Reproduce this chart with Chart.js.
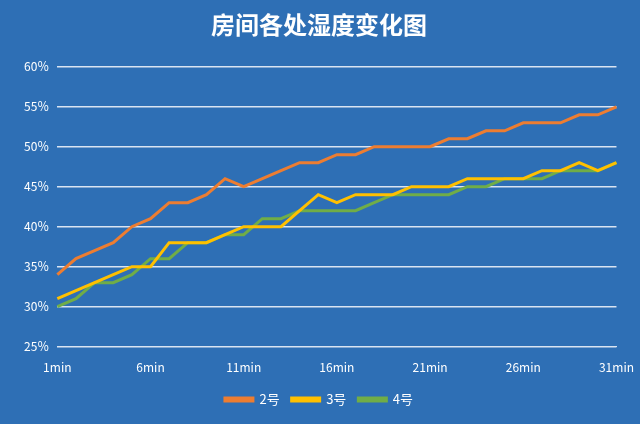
<!DOCTYPE html>
<html>
<head>
<meta charset="utf-8">
<script src="https://cdn.jsdelivr.net/npm/chart.js@4"></script>
<style>
  html, body { margin: 0; padding: 0; background: #2e6fb5; }
  #wrap { width: 640px; height: 424px; position: relative; }
</style>
</head>
<body>
<div id="wrap"><canvas id="chart" width="640" height="424"></canvas></div>
<script>
const labels = Array.from({ length: 31 }, (_, i) => (i + 1) + 'min')
const room2 = [34, 36, 37, 38, 40, 41, 43, 43, 44, 46, 45, 46, 47, 48, 48, 49, 49, 50, 50, 50, 50, 51, 51, 52, 52, 53, 53, 53, 54, 54, 55]
const room3 = [31, 32, 33, 34, 35, 35, 38, 38, 38, 39, 40, 40, 40, 42, 44, 43, 44, 44, 44, 45, 45, 45, 46, 46, 46, 46, 47, 47, 48, 47, 48]
const room4 = [30, 31, 33, 33, 34, 36, 36, 38, 38, 39, 39, 41, 41, 42, 42, 42, 42, 43, 44, 44, 44, 44, 45, 45, 46, 46, 46, 47, 47, 47, 48]

const font = "'Noto Sans CJK SC', 'Noto Sans', sans-serif"

const ds = (label, data, color) => ({
    label, data,
    borderColor: color, backgroundColor: color,
    borderWidth: 3, pointRadius: 0, tension: 0
})

new Chart(document.getElementById('chart'), {
    type: 'line',
    data: {
        labels,
        datasets: [
            ds('2号', room2, '#ed7d31'),
            ds('3号', room3, '#ffc000'),
            ds('4号', room4, '#70ad47')
        ]
    },
    options: {
        responsive: false,
        animation: false,
        layout: { padding: { left: 16, right: 18, top: 6, bottom: 8 } },
        plugins: {
            title: {
                display: true,
                text: '房间各处湿度变化图',
                color: '#ffffff',
                font: { family: font, size: 24, weight: 'bold' },
                padding: { top: 4, bottom: 28 }
            },
            legend: {
                position: 'bottom',
                labels: {
                    color: '#ffffff',
                    font: { family: font, size: 13 },
                    boxWidth: 28, boxHeight: 3, padding: 12
                }
            },
            tooltip: { enabled: false }
        },
        scales: {
            x: {
                grid: { display: false },
                border: { color: '#d9e4f2' },
                ticks: {
                    color: '#ffffff',
                    font: { family: font, size: 12 },
                    autoSkip: false, maxRotation: 0, padding: 6,
                    callback: (v, i) => (i % 5 === 0 ? labels[i] : '')
                }
            },
            y: {
                min: 25, max: 60,
                grid: { color: '#d9e4f2', lineWidth: 1.5, drawTicks: false },
                border: { display: false },
                ticks: {
                    stepSize: 5, padding: 8,
                    color: '#ffffff',
                    font: { family: font, size: 12 },
                    callback: v => v + '％'
                }
            }
        }
    }
})
</script>
</body>
</html>
